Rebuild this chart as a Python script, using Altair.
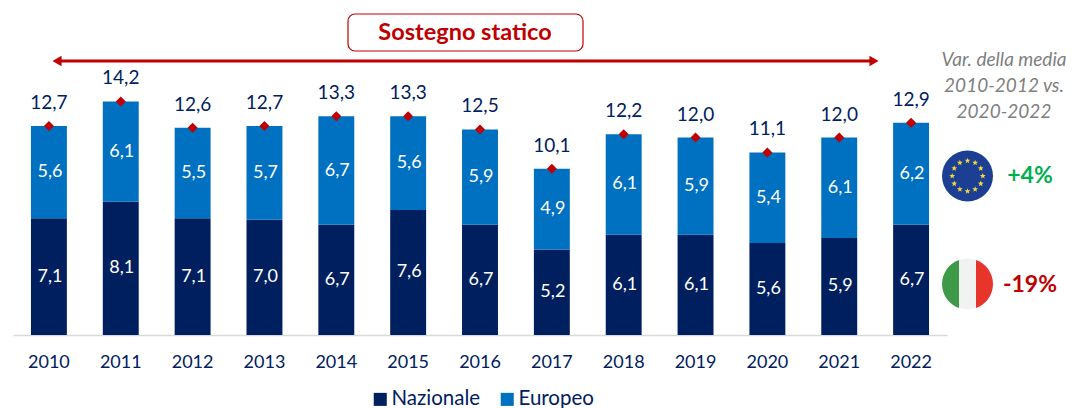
import math
import altair as alt
import pandas as pd

years = [2010, 2011, 2012, 2013, 2014, 2015, 2016, 2017, 2018, 2019, 2020, 2021, 2022]
nazionale = [7.1, 8.1, 7.1, 7.0, 6.7, 7.6, 6.7, 5.2, 6.1, 6.1, 5.6, 5.9, 6.7]
europeo = [5.6, 6.1, 5.5, 5.7, 6.7, 5.6, 5.9, 4.9, 6.1, 5.9, 5.4, 6.1, 6.2]
totale = [12.7, 14.2, 12.6, 12.7, 13.3, 13.3, 12.5, 10.1, 12.2, 12.0, 11.1, 12.0, 12.9]
series = ["Nazionale", "Europeo"]
side_note = ["Var. della media", "2010-2012 vs.", "2020-2022"]
box_title = "Sostegno statico"
eu_change = "+4%"
it_change = "-19%"

FONT = "Lato"
NAVY = "#002060"
DARK = "#001F5F"
BLUE = "#0070C0"
RED = "#C00000"


def fmt(v):
    return f"{v:.1f}".replace(".", ",")


rows = []
for yr, n, e, t in zip(years, nazionale, europeo, totale):
    rows.append(dict(year=str(yr), serie="Nazionale", y0=0, y1=n, mid=n / 2, label=fmt(n), total=t, tlabel=fmt(t)))
    rows.append(dict(year=str(yr), serie="Europeo", y0=n, y1=t, mid=(n + t) / 2, label=fmt(e), total=t, tlabel=fmt(t)))
df = pd.DataFrame(rows)
tot = df[df.serie == "Nazionale"]

x = alt.X(
    "year:N",
    sort=None,
    scale=alt.Scale(domain=[str(y) for y in years], range=[5, 939], paddingInner=0.5, paddingOuter=0.25),
    axis=alt.Axis(title=None, labelAngle=0, labelFontSize=18, labelFont=FONT, labelColor=NAVY,
                  ticks=False, domainColor="#D9D9D9", domainWidth=1.5, labelPadding=18, grid=False),
)
yscale = alt.Scale(domain=[0, 327 / 16.45], range=[327, 0], nice=False, zero=False)
y_axis = alt.Y("y1:Q", scale=yscale, axis=None)

bars = alt.Chart(df).mark_bar().encode(
    x=x, y=y_axis, y2="y0:Q",
    color=alt.Color("serie:N", sort=series,
                    scale=alt.Scale(domain=series, range=[DARK, BLUE]),
                    legend=alt.Legend(title=None, orient="none", legendX=362, legendY=381, direction="horizontal",
                                      symbolType="square", symbolSize=170, symbolStrokeWidth=0,
                                      labelFont=FONT, labelFontSize=20.5, labelColor=NAVY, columnPadding=16,
                                      labelOffset=1)),
)
seg_labels = alt.Chart(df).mark_text(color="white", font=FONT, fontSize=18, dx=1).encode(
    x=x, y=alt.Y("mid:Q", scale=yscale, axis=None), text="label:N")
diamonds = alt.Chart(tot).mark_point(shape="diamond", filled=True, color=RED, size=100, opacity=1).encode(
    x=x, y=alt.Y("total:Q", scale=yscale, axis=None))
tot_labels = alt.Chart(tot).mark_text(color=NAVY, font=FONT, fontSize=19, dy=-23).encode(
    x=x, y=alt.Y("total:Q", scale=yscale, axis=None), text="tlabel:N")

one = alt.Data(values=[{}])


def txt(s, px, py, **kw):
    return alt.Chart(one).mark_text(text=s, font=FONT, **kw).encode(x=alt.value(px - 8), y=alt.value(py - 8))


def sym(path, px, py, size, color, **kw):
    return alt.Chart(one).mark_point(shape=path, filled=True, color=color, size=size, opacity=1, strokeWidth=0, **kw).encode(
        x=alt.value(px - 8), y=alt.value(py - 8))


arrow_line = alt.Chart(one).mark_rule(color=RED, strokeWidth=3).encode(
    x=alt.value(52), x2=alt.value(864), y=alt.value(53))
arrow_l = sym("triangle-left", 57, 61, 110, RED)
arrow_r = sym("triangle-right", 874, 61, 110, RED)
box = alt.Chart(one).mark_rect(fill="white", stroke=RED, strokeWidth=1.2, cornerRadius=7).encode(
    x=alt.value(340), x2=alt.value(575), y=alt.value(6), y2=alt.value(43))
box_text = txt(box_title, 465, 33, color=RED, fontSize=23.5, fontWeight="bold")

notes = [txt(s, 1004, py, color="#7F7F7F", fontSize=19, fontStyle="italic") for s, py in zip(side_note, [60, 86, 112])]


def star(cx, cy, r):
    pts = []
    for i in range(10):
        a = -math.pi / 2 + i * math.pi / 5
        rr = r if i % 2 == 0 else r * 0.42
        pts.append(f"{cx + rr * math.cos(a):.4f},{cy + rr * math.sin(a):.4f}")
    return "M" + "L".join(pts) + "Z"


stars = "".join(star(0.6 * math.cos(k * math.pi / 6), 0.6 * math.sin(k * math.pi / 6), 0.12) for k in range(12))
k = 1 / 3
h = math.sqrt(1 - k * k)
green = f"M{-k:.4f},{-h:.4f}A1,1 0 0 0 {-k:.4f},{h:.4f}Z"
red = f"M{k:.4f},{-h:.4f}A1,1 0 0 1 {k:.4f},{h:.4f}Z"
white = f"M{-k:.4f},{-h:.4f}A1,1 0 0 1 {k:.4f},{-h:.4f}L{k:.4f},{h:.4f}A1,1 0 0 1 {-k:.4f},{h:.4f}Z"
D2 = 51 * 51
eu = [sym("circle", 967.5, 176, D2, "#1C3F94"), sym(stars, 967.5, 176, D2, "#F2D93A")]
it = [sym(white, 967.5, 284, D2, "#F1F2F2"), sym(green, 967.5, 284, D2, "#3E9A48"), sym(red, 967.5, 284, D2, "#E8352B")]
eu_t = txt(eu_change, 1030, 176, color="#00B050", fontSize=23, fontWeight="bold")
it_t = txt(it_change, 1030, 285, color=RED, fontSize=23, fontWeight="bold")

chart = alt.layer(
    bars, seg_labels, diamonds, tot_labels, arrow_line, arrow_l, arrow_r, box, box_text,
    *notes, *eu, *it, eu_t, it_t,
).properties(
    width=1062, height=327,
    autosize=alt.AutoSizeParams(type="none"),
    padding={"left": 0, "top": 0, "right": 0, "bottom": 73},
).configure_view(stroke=None)

chart.save("out.html", embed_options={"renderer": "svg", "actions": False})
